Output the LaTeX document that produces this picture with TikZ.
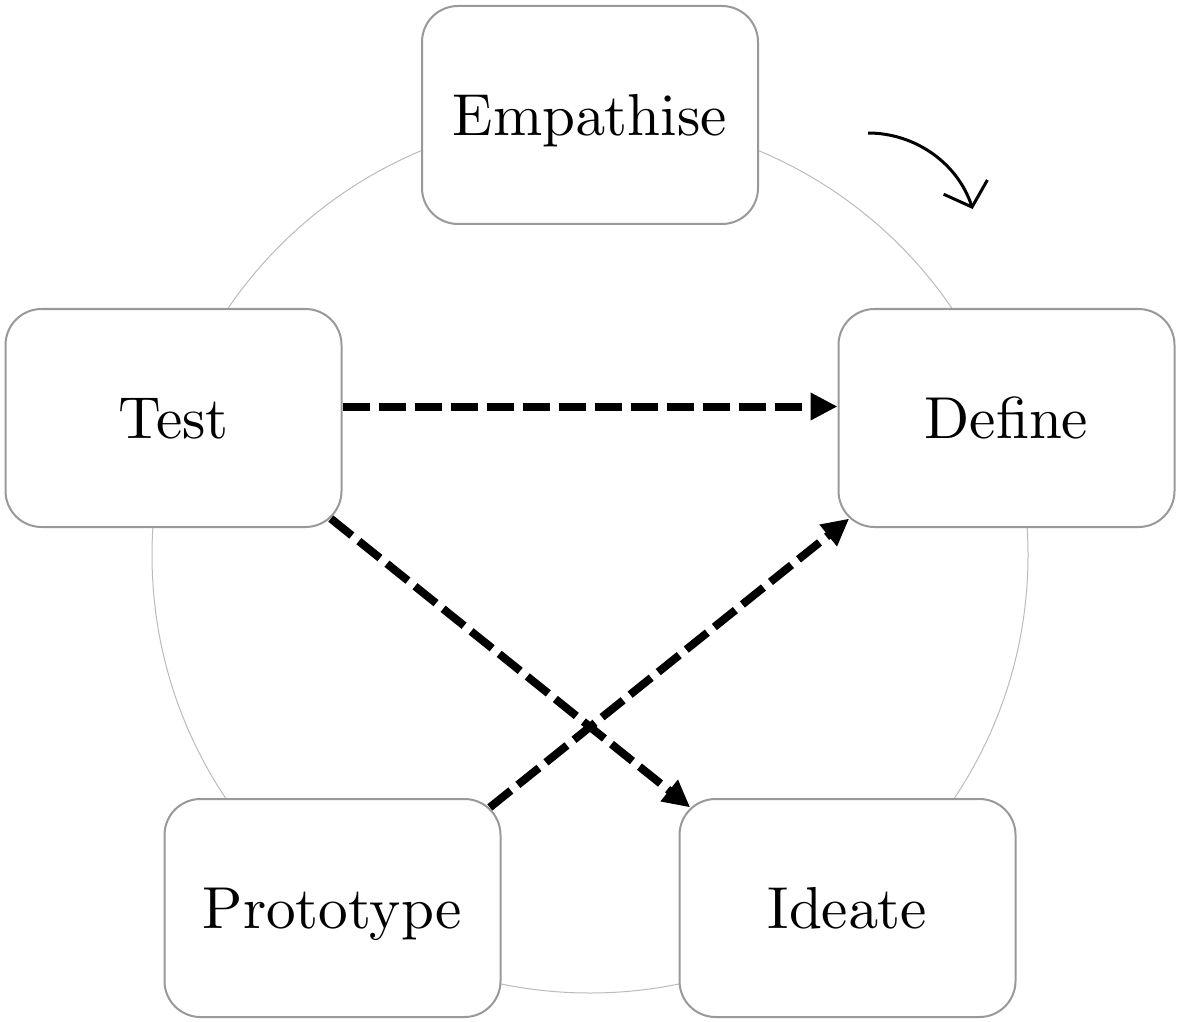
\documentclass[tikz,border=0pt]{standalone}
\usetikzlibrary{arrows.meta,calc}
\definecolor{boxgray}{HTML}{999999}
\definecolor{ringgray}{HTML}{BBBBBB}
\font\labfont=cmr10 at 29.6pt
\begin{document}
\begin{tikzpicture}[x=0.5pt,y=-0.5pt,
  stage/.style={draw=boxgray, line width=1pt, fill=white, rounded corners=18pt,
    minimum width=168pt, minimum height=109pt, inner sep=0pt, font=\labfont,
    text height=20.2pt, text depth=0pt},
  ring/.style={draw=ringgray, line width=0.5pt},
  flow/.style={line width=4pt, dash pattern=on 13.5pt off 4.5pt,
    -{Triangle[length=13.5pt,width=13pt]}},
  turn/.style={line width=1.5pt, -{Straight Barb[length=10.5pt,width=23pt]}}]
\useasboundingbox (0,0) rectangle (1181,1021);
\coordinate (ctr) at (590,555);
\draw[ring] (ctr) circle[radius=219pt];
\node[stage] (emp) at (590,115) {Empathise};
\node[stage] (def) at (1006.5,418) {Define};
\node[stage] (ide) at (847.5,908) {Ideate};
\node[stage] (pro) at (332.5,908) {Prototype};
\node[stage] (tes) at (173.5,418) {Test};
\draw[flow] ([yshift=5.75pt]tes.east) -- ([yshift=5.75pt]def.west);
\draw[flow] ($(tes.south east)!-7.5pt!(ide.north west)$) -- ($(ide.north west)!-7.5pt!(tes.south east)$);
\draw[flow] ($(pro.north east)!-7.5pt!(def.south west)$) -- ($(def.south west)!-7.5pt!(pro.north east)$);
\coordinate (cs) at (868,133);
\draw[turn] (cs) arc[start angle=90, end angle=18, radius=55pt];
\end{tikzpicture}
\end{document}
